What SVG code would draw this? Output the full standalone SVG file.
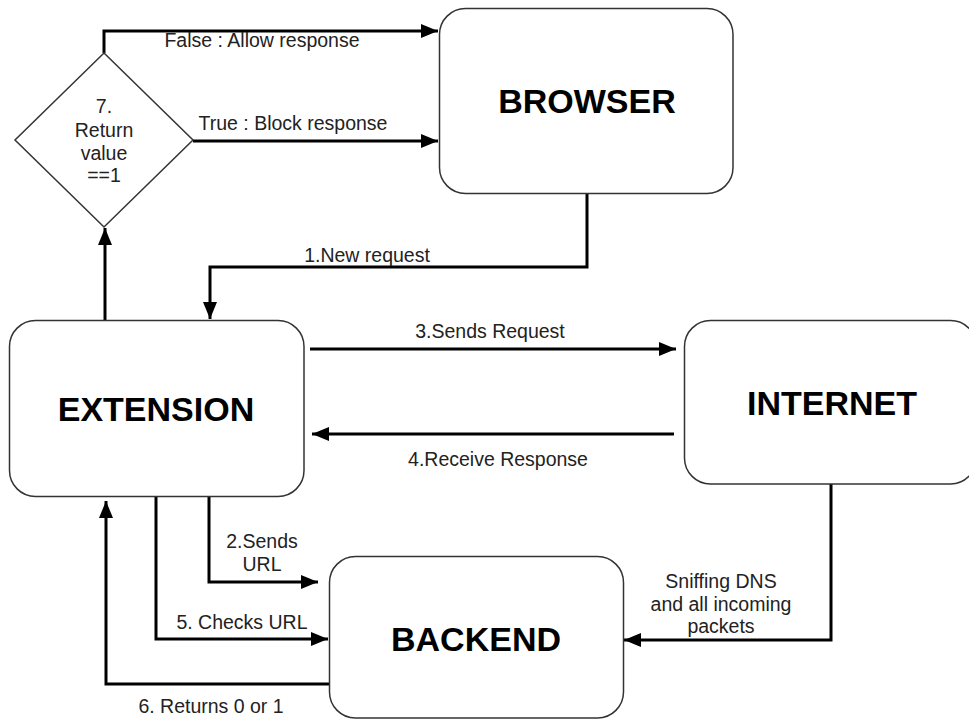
<svg xmlns="http://www.w3.org/2000/svg" width="969" height="720" viewBox="0 0 969 720">
<style>
.box{fill:#fff;stroke:#333;stroke-width:1.5}
.big{font-family:"Liberation Sans",Arial,sans-serif;font-weight:bold;font-size:34px;fill:#000;text-anchor:middle}
.lbl{font-family:"Liberation Sans",Arial,sans-serif;font-size:19.5px;fill:#222;text-anchor:middle}
.con{fill:none;stroke:#000;stroke-width:3;stroke-linejoin:miter}
</style>
<defs>
<marker id="ah" viewBox="0 0 17 14" refX="17" refY="7" markerWidth="17" markerHeight="14" markerUnits="userSpaceOnUse" orient="auto">
<path d="M0,0 L17,7 L0,14 Z" fill="#000"/>
</marker>
</defs>
<rect width="969" height="720" fill="#fff"/>
<g id="connectors">
<path class="con" d="M104,53 V31 H438" marker-end="url(#ah)"/>
<path class="con" d="M193,141 H438" marker-end="url(#ah)"/>
<path class="con" d="M587,194 V267 H210 V319" marker-end="url(#ah)"/>
<path class="con" d="M105,320 V228" marker-end="url(#ah)"/>
<path class="con" d="M310,349 H676" marker-end="url(#ah)"/>
<path class="con" d="M674,434 H312" marker-end="url(#ah)"/>
<path class="con" d="M209,497 V582 H318" marker-end="url(#ah)"/>
<path class="con" d="M156,497 V639 H328" marker-end="url(#ah)"/>
<path class="con" d="M329,684 H106 V501" marker-end="url(#ah)"/>
<path class="con" d="M831,484 V640 H624" marker-end="url(#ah)"/>
<text class="lbl" x="262" y="47">False : Allow response</text>
<text class="lbl" x="293" y="130">True : Block response</text>
<text class="lbl" x="367" y="262">1.New request</text>
<text class="lbl" x="490" y="338">3.Sends Request</text>
<text class="lbl" x="498" y="466">4.Receive Response</text>
<text class="lbl" x="262" y="548">2.Sends</text>
<text class="lbl" x="262" y="571">URL</text>
<text class="lbl" x="242" y="629">5. Checks URL</text>
<text class="lbl" x="211" y="713">6. Returns 0 or 1</text>
<text class="lbl" x="721" y="588">Sniffing DNS</text>
<text class="lbl" x="721" y="611">and all incoming</text>
<text class="lbl" x="721" y="633">packets</text>
</g>
<g id="decision">
<polygon class="box" points="104,53 193,140 104,227 15,140"/>
<text class="lbl" x="104" y="113">7.</text>
<text class="lbl" x="104" y="137">Return</text>
<text class="lbl" x="104" y="160">value</text>
<text class="lbl" x="104" y="182">==1</text>
</g>
<g id="browser">
<rect class="box" x="439.5" y="8.5" width="293.5" height="185" rx="26" ry="26"/>
<text class="big" x="587" y="113">BROWSER</text>
</g>
<g id="extension">
<rect class="box" x="9.5" y="320.5" width="294.5" height="176" rx="26" ry="26"/>
<text class="big" x="156" y="421">EXTENSION</text>
</g>
<g id="internet">
<rect class="box" x="684.5" y="320.5" width="292" height="163.5" rx="26" ry="26"/>
<text class="big" x="832" y="415">INTERNET</text>
</g>
<g id="backend">
<rect class="box" x="329.5" y="556.5" width="294" height="161.5" rx="26" ry="26"/>
<text class="big" x="476" y="651">BACKEND</text>
</g>
</svg>
